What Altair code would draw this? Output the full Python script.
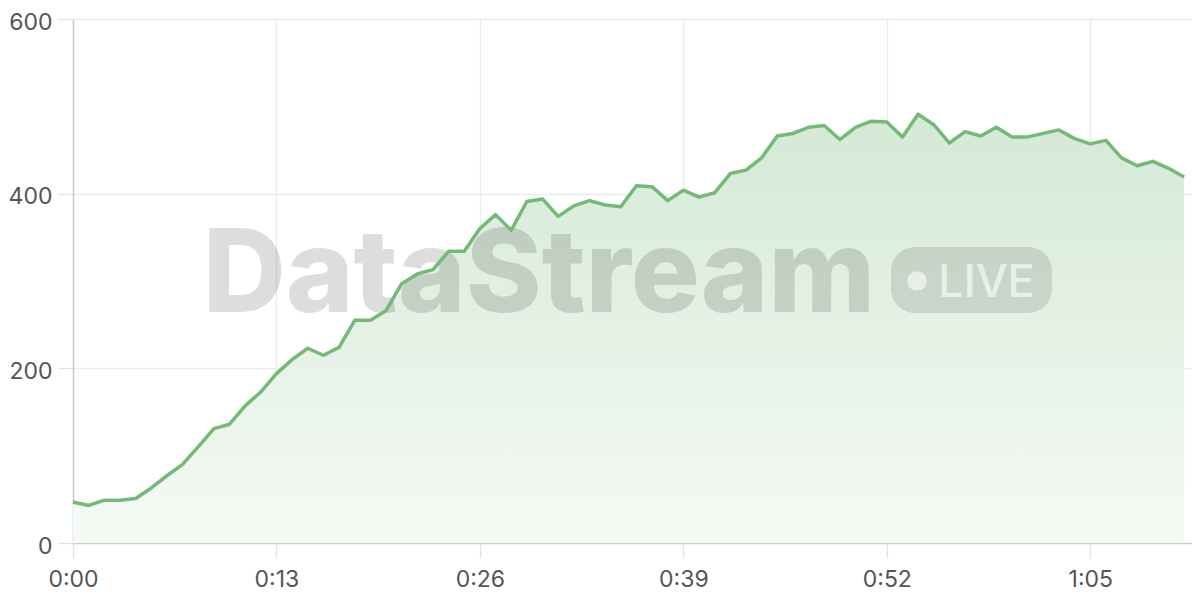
import altair as alt
import pandas as pd

# seconds since start (one sample per second)
seconds = list(range(72))
values = [47, 43, 49, 49, 51, 63, 77, 90, 110, 131,
          136, 157, 173, 194, 210, 223, 215, 224, 255, 255,
          266, 297, 308, 313, 334, 334, 360, 376, 358, 391,
          394, 374, 386, 392, 387, 385, 409, 408, 392, 404,
          396, 401, 423, 427, 441, 466, 469, 476, 478, 462,
          476, 483, 482, 465, 491, 479, 458, 471, 466, 476,
          465, 465, 469, 473, 463, 457, 461, 441, 432, 437,
          429, 419]
x_ticks = [0, 13, 26, 39, 52, 65]
y_ticks = [0, 200, 400, 600]
brand = "DataStream"
badge = "LIVE"

df = pd.DataFrame({"t": seconds, "v": values})

label_expr = ("floor(datum.value / 60) + ':' + "
              "(datum.value % 60 < 10 ? '0' : '') + (datum.value % 60)")

x_enc = alt.X("t:Q", scale=alt.Scale(domain=[0, 71.5], nice=False, zero=False),
              axis=alt.Axis(values=x_ticks, labelExpr=label_expr, title=None,
                            labelPadding=10, labelAlign="center"))
y_enc = alt.Y("v:Q", scale=alt.Scale(domain=[0, 600], nice=False),
              axis=alt.Axis(values=y_ticks, title=None, labelPadding=6,
                            labelOffset=3))

base = alt.Chart(df)

area = base.mark_area(
    color=alt.Gradient(
        gradient="linear",
        stops=[alt.GradientStop(color="#d4e9d5", offset=0),
               alt.GradientStop(color="#f5faf5", offset=1)],
        x1=1, x2=1, y1=0, y2=1),
    interpolate="linear",
).encode(x=x_enc, y=y_enc)

line = base.mark_line(color="#75b979", strokeWidth=3.5, strokeJoin="round").encode(
    x="t:Q", y="v:Q")

one = pd.DataFrame({"k": [1]})

wm_text = alt.Chart(one).mark_text(
    text=brand, font="Inter", fontSize=115, fontWeight=800,
    align="center", baseline="alphabetic", color="#000000", opacity=0.13,
).encode(x=alt.value(466), y=alt.value(293))

pill = alt.Chart(one).mark_rect(
    color="#000000", opacity=0.11, cornerRadius=24,
).encode(x=alt.value(818), x2=alt.value(979), y=alt.value(228), y2=alt.value(294))

dot = alt.Chart(one).mark_circle(
    color="#ffffff", opacity=0.6, size=380,
).encode(x=alt.value(844), y=alt.value(262))

live = alt.Chart(one).mark_text(
    text=badge, font="Inter", fontSize=45, fontWeight=500,
    align="left", baseline="alphabetic", color="#ffffff", opacity=0.6,
).encode(x=alt.value(865), y=alt.value(278))

chart = alt.layer(area, wm_text, pill, dot, live, line).properties(
    width=1119, height=524,
    autosize=alt.AutoSizeParams(type="none"),
    padding={"left": 65, "top": 11, "right": 0, "bottom": 50},
).configure_view(stroke=None).configure_axis(
    grid=True, gridColor="#ebebeb", gridWidth=1.3,
    tickColor="#e4e4e4", tickSize=15, tickWidth=1.3,
    domainColor="#cdcdcd", domainWidth=1.6,
    labelFont="Inter", labelFontSize=23, labelColor="#555555",
)

chart.save("out.html", embed_options={"renderer": "svg", "actions": False})
